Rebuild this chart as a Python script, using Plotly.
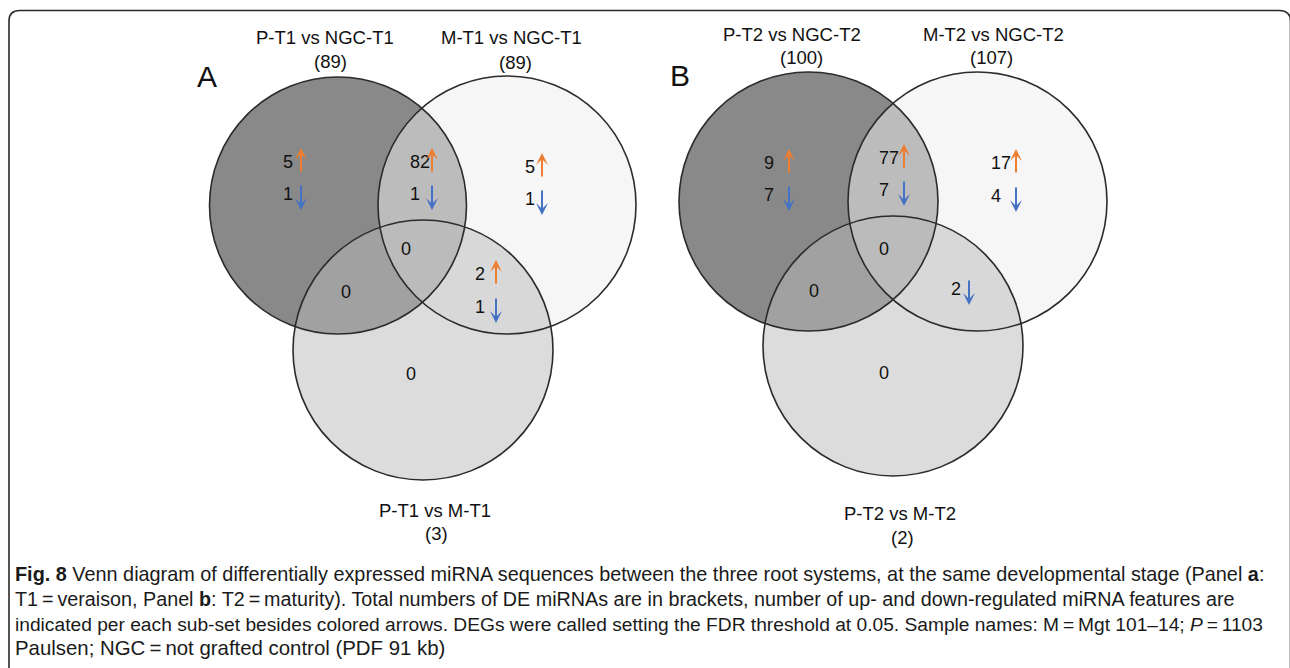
import plotly.graph_objects as go

# ---------------- data ----------------
panel_letters = ["A", "B"]
set_names_A = ["P-T1 vs NGC-T1", "M-T1 vs NGC-T1", "P-T1 vs M-T1"]
set_totals_A = [89, 89, 3]
set_names_B = ["P-T2 vs NGC-T2", "M-T2 vs NGC-T2", "P-T2 vs M-T2"]
set_totals_B = [100, 107, 2]
# regions: P only, P&M, M only, P&M&PM, P&PM, M&PM, PM only
region_names = ["P only", "P&M", "M only", "P&M&PM", "P&PM", "M&PM", "PM only"]
up_A = [5, 82, 5, 0, 0, 2, 0]
down_A = [1, 1, 1, 0, 0, 1, 0]
up_B = [9, 77, 17, 0, 0, 0, 0]
down_B = [7, 7, 4, 0, 0, 2, 0]

caption_lines = [
    "<b>Fig. 8</b> Venn diagram of differentially expressed miRNA sequences between the three root systems, at the same developmental stage (Panel <b>a</b>:",
    "T1\u2009=\u2009veraison, Panel <b>b</b>: T2\u2009=\u2009maturity). Total numbers of DE miRNAs are in brackets, number of up- and down-regulated miRNA features are",
    "indicated per each sub-set besides colored arrows. DEGs were called setting the FDR threshold at 0.05. Sample names: M\u2009=\u2009Mgt 101\u201314; <i>P</i>\u2009=\u20091103",
    "Paulsen; NGC\u2009=\u2009not grafted control (PDF 91 kb)",
]

# ---------------- layout geometry (pixel space) ----------------
W, H = 1290, 668
UP_COLOR = "#ED7D31"
DOWN_COLOR = "#4472C4"
TXT_FONT = "Liberation Sans, Arial, sans-serif"
CAP_FONT = "Liberation Sans, Arial, sans-serif"

circle_fills = ["rgb(137,137,137)", "rgba(237,237,237,0.51)", "rgba(185,185,185,0.5)"]

geom = {
    "A": dict(
        circles=[(338, 205.5, 128.5), (507, 205, 129), (423, 350, 130)],
        letter=(207, 76),
        labels=[(325, 37, 330, 61), (511, 37, 515, 62), (435, 510, 436, 533)],
        regions=[(281, 162, 194, 301), (408, 162, 194, 432), (523, 167, 199, 542),
                 (406, 249), (346, 292), (473, 274, 307, 496), (411, 374)],
    ),
    "B": dict(
        circles=[(808.5, 201.5, 129.5), (977.5, 201.5, 129.5), (893, 346, 130)],
        letter=(680, 75),
        labels=[(792, 34, 801, 57), (993, 34, 991, 57), (900, 513, 902, 537)],
        regions=[(762, 163, 195, 789), (877, 158, 190, 904), (989, 163, 196, 1016),
                 (884, 249), (814, 291), (949, 163, 289, 969), (884, 373)],
    ),
}

panel_data = {
    "A": (set_names_A, set_totals_A, up_A, down_A),
    "B": (set_names_B, set_totals_B, up_B, down_B),
}

fig = go.Figure()
shapes = []
ann = []


def txt(x, y, s, size=18, xanchor="center", family=TXT_FONT, color="#111111"):
    ann.append(dict(x=x, y=y, xref="x", yref="y", text=s, showarrow=False,
                    xanchor=xanchor, yanchor="middle",
                    font=dict(family=family, size=size, color=color)))


def arrow(x, y_tip, y_tail, color):
    ann.append(dict(x=x, y=y_tip, ax=x, ay=y_tail, xref="x", yref="y",
                    axref="x", ayref="y", text="", showarrow=True,
                    arrowhead=3, arrowsize=1, arrowwidth=2, arrowcolor=color,
                    standoff=0, startstandoff=0))


# border
shapes.append(dict(type="path", xref="x", yref="y",
                   path="M 9,700 L 9,21 Q 9,10.5 20,10.5 L 1279,10.5 Q 1290.5,10.5 1290.5,21 L 1290.5,700",
                   line=dict(color="#2a2a2a", width=1.6), fillcolor="rgba(0,0,0,0)"))

for letter in panel_letters:
    g = geom[letter]
    names, totals, ups, downs = panel_data[letter]
    # fills
    for (cx, cy, r), fc in zip(g["circles"], circle_fills):
        shapes.append(dict(type="circle", xref="x", yref="y", x0=cx - r, x1=cx + r,
                           y0=cy - r, y1=cy + r, fillcolor=fc, line=dict(width=0),
                           layer="below"))
    # outlines
    for (cx, cy, r) in g["circles"]:
        shapes.append(dict(type="circle", xref="x", yref="y", x0=cx - r, x1=cx + r,
                           y0=cy - r, y1=cy + r, fillcolor="rgba(0,0,0,0)",
                           line=dict(color="#2b2b2b", width=1.6), layer="below"))
    # panel letter
    lx, ly = g["letter"]
    txt(lx, ly, letter, size=30)
    # set labels
    for (nx, ny, tx, ty), nm, tot in zip(g["labels"], names, totals):
        txt(nx, ny, nm, size=18.5)
        txt(tx, ty, f"({tot})", size=18.5)
    # region counts
    for pos, u, d in zip(g["regions"], ups, downs):
        if u == 0 and d == 0:
            txt(pos[0], pos[1], "0", size=18)
            continue
        nx, uy, dy, axp = pos
        if u > 0:
            txt(nx, uy, str(u), size=18, xanchor="left")
            arrow(axp, uy - 14, uy + 11, UP_COLOR)
        if d > 0:
            txt(nx, dy, str(d), size=18, xanchor="left")
            arrow(axp, dy + 16, dy - 10, DOWN_COLOR)

# caption
cap_y = [574, 599, 624, 648]
cap_size = [19.85, 19.74, 19.2, 20.4]
for line, cy, cs in zip(caption_lines, cap_y, cap_size):
    txt(13, cy, line, size=cs, xanchor="left", family=CAP_FONT, color="#1a1a1a")

fig.update_layout(
    width=W, height=H, margin=dict(l=0, r=0, t=0, b=0),
    paper_bgcolor="white", plot_bgcolor="white",
    xaxis=dict(range=[0, W], visible=False, fixedrange=True),
    yaxis=dict(range=[H, 0], visible=False, fixedrange=True),
    shapes=shapes, annotations=ann, showlegend=False,
)

fig.write_html("out.html", config={"displayModeBar": False},
               post_script="document.body.style.margin='0';document.body.style.overflow='hidden';")
